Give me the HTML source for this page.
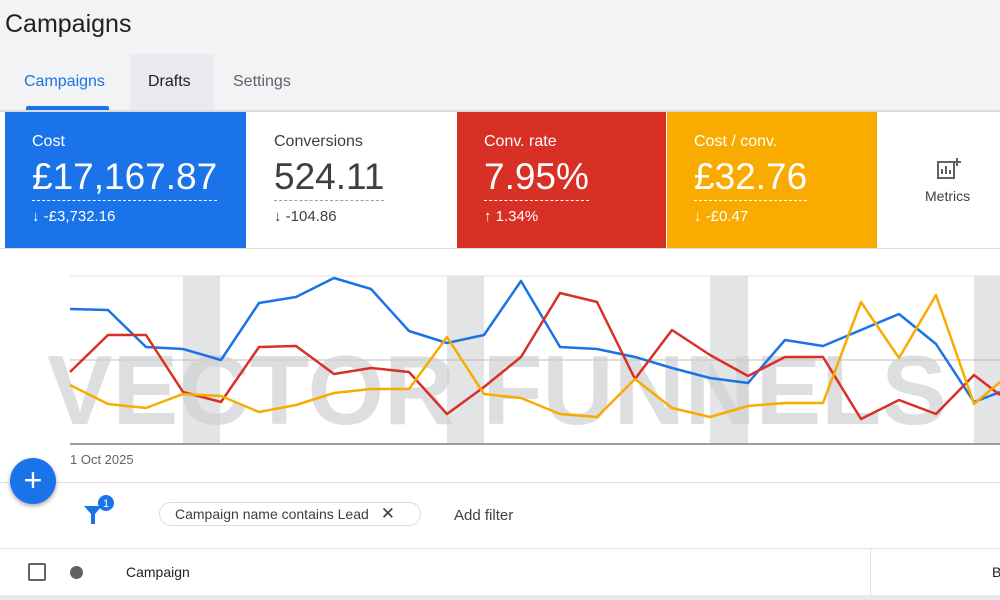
<!DOCTYPE html>
<html><head><meta charset="utf-8"><style>
*{margin:0;padding:0;box-sizing:border-box}
body{width:1000px;height:600px;overflow:hidden;background:#fff;font-family:"Liberation Sans",Arial,sans-serif;position:relative}
.a{position:absolute}
.card{position:absolute;top:112px;height:136px}
.lbl{position:absolute;left:27px;top:21px;font-size:16px}
.big{position:absolute;left:27px;top:44px;font-size:37px;padding-bottom:2px;border-bottom:1px dashed}
.sub{position:absolute;left:27px;top:96px;font-size:15px}
</style></head><body>
<div class="a" style="left:0;top:0;width:1000px;height:111px;background:#f1f3f4"></div>
<div class="a" style="left:5px;top:10px;font-size:25px;color:#202124">Campaigns</div>
<div class="a" style="left:130px;top:54px;width:84px;height:57px;background:#e8eaed"></div>
<div class="a" style="left:24px;top:73px;font-size:16px;color:#1a73e8">Campaigns</div>
<div class="a" style="left:26px;top:106px;width:83px;height:4px;background:#1a73e8;border-radius:2px 2px 0 0"></div>
<div class="a" style="left:148px;top:73px;font-size:16px;color:#202124">Drafts</div>
<div class="a" style="left:233px;top:73px;font-size:16px;color:#5f6368">Settings</div>
<div class="a" style="left:0;top:110px;width:1000px;height:2px;background:#dadce0"></div>
<div class="card" style="left:5px;width:241px;background:#1a73e8;color:#fff"><div class="lbl">Cost</div><div class="big" style="border-color:#fff">£17,167.87</div><div class="sub">↓ -£3,732.16</div></div>
<div class="card" style="left:247px;width:209px;background:#fff;color:#3c4043"><div class="lbl">Conversions</div><div class="big" style="border-color:#9aa0a6">524.11</div><div class="sub">↓ -104.86</div></div>
<div class="card" style="left:457px;width:209px;background:#d93025;color:#fff"><div class="lbl">Conv. rate</div><div class="big" style="border-color:#fff">7.95%</div><div class="sub">↑ 1.34%</div></div>
<div class="card" style="left:667px;width:210px;background:#f9ab00;color:#fff"><div class="lbl">Cost / conv.</div><div class="big" style="border-color:#fff">£32.76</div><div class="sub">↓ -£0.47</div></div>
<svg class="a" style="left:936px;top:157px" width="26" height="24"><rect x="2" y="5" width="16" height="16" fill="none" stroke="#5f6368" stroke-width="2"/><path d="M6 17V12M10 17V9M14 17V13" stroke="#5f6368" stroke-width="2"/><path d="M21 1V9M17 5H25" stroke="#5f6368" stroke-width="2"/></svg>
<div class="a" style="left:925px;top:188px;font-size:14px;color:#3c4043">Metrics</div>
<div class="a" style="left:0;top:248px;width:1000px;height:1px;background:#dadce0"></div>
<svg class="a" style="left:0;top:249px" width="1000" height="235" viewBox="0 249 1000 235">
<g fill="#e3e4e6"><rect x="183" y="276" width="37" height="168"/><rect x="447" y="276" width="37" height="168"/><rect x="710" y="276" width="38" height="168"/><rect x="974" y="276" width="26" height="168"/></g>
<line x1="70" y1="276" x2="1000" y2="276" stroke="#e0e0e0"/>
<line x1="70" y1="360" x2="1000" y2="360" stroke="#bdbdbd"/>
<line x1="70" y1="444" x2="1000" y2="444" stroke="#9e9e9e" stroke-width="2"/>
<text x="497" y="424" text-anchor="middle" font-family="Liberation Sans" font-weight="bold" font-size="98" fill="#cfd0d2" fill-opacity="0.7" textLength="900" lengthAdjust="spacingAndGlyphs">VECTOR FUNNELS</text>
<g fill="none" stroke-width="2.5" stroke-linejoin="round">
<polyline stroke="#1a73e8" points="70,309 108,310 146,347 183,349 221,360 259,303 296,297 334,278 371,289 409,331 447,343 484,335 521,281 560,347 597,349 635,357 672,368 710,378 748,383 785,340 823,346 861,330 899,314 936,344 974,402 1000,392"/>
<polyline stroke="#d93025" points="70,372 108,335 146,335 183,392 221,402 259,347 296,346 334,374 371,368 409,372 447,414 484,387 521,357 560,293 597,302 635,379 672,330 710,355 748,376 785,357 823,357 861,419 899,400 936,414 974,375 1000,395"/>
<polyline stroke="#f9ab00" points="70,385 108,404 146,408 183,394 221,396 259,412 296,405 334,393 371,389 409,389 447,337 484,394 521,398 560,414 597,417 635,379 672,408 710,417 748,406 785,403 823,403 861,302 899,358 936,295 974,404 1000,382"/>
</g>
<text x="70" y="464" font-family="Liberation Sans" font-size="13" fill="#5f6368">1 Oct 2025</text>
</svg>
<div class="a" style="left:0;top:482px;width:1000px;height:1px;background:#e0e0e0"></div>
<div class="a" style="left:10px;top:458px;width:46px;height:46px;border-radius:50%;background:#1a73e8;box-shadow:0 2px 5px rgba(0,0,0,.35);color:#fff;font-size:32px;line-height:44px;text-align:center">+</div>
<svg class="a" style="left:82px;top:494px" width="36" height="34"><path d="M2 12 L20 12 L13 20 L13 30 L9 30 L9 20 Z" fill="#1a73e8"/><circle cx="24" cy="9" r="8" fill="#1a73e8"/><text x="24" y="13" text-anchor="middle" font-size="11" fill="#fff" font-family="Liberation Sans">1</text></svg>
<div class="a" style="left:159px;top:502px;width:262px;height:24px;border:1px solid #dadce0;border-radius:12px;font-size:14px;color:#3c4043;line-height:22px;padding-left:15px">Campaign name contains Lead <span style="font-size:17px;margin-left:8px">✕</span></div>
<div class="a" style="left:454px;top:507px;font-size:15px;color:#3c4043">Add filter</div>
<div class="a" style="left:0;top:548px;width:1000px;height:1px;background:#e0e0e0"></div>
<div class="a" style="left:28px;top:563px;width:18px;height:18px;border:2px solid #5f6368;border-radius:2px"></div>
<div class="a" style="left:70px;top:566px;width:13px;height:13px;border-radius:50%;background:#5f6368"></div>
<div class="a" style="left:126px;top:564px;font-size:14px;color:#202124">Campaign</div>
<div class="a" style="left:870px;top:549px;width:1px;height:51px;background:#e0e0e0"></div>
<div class="a" style="left:992px;top:564px;font-size:14px;color:#202124">B</div>
<div class="a" style="left:0;top:595px;width:1000px;height:5px;background:#e8eaed"></div>
</body></html>
